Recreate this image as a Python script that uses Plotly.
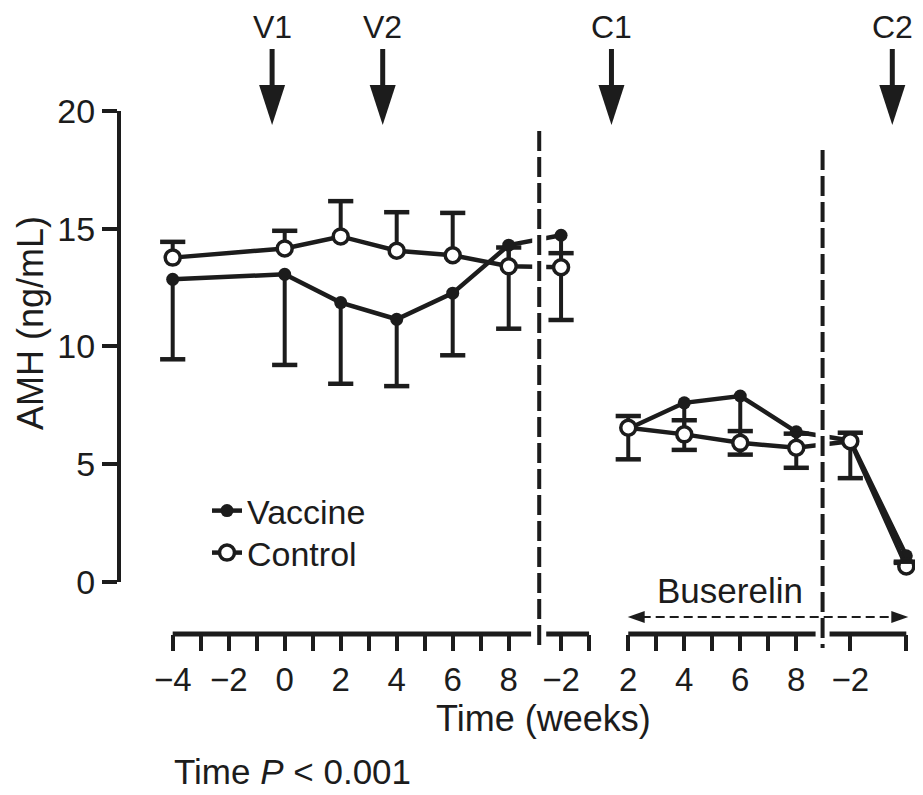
import plotly.graph_objects as go

# ---- values ----
phase = [1, 1, 1, 1, 1, 1, 2, 3, 3, 3, 3, 4, 4]
week = [-4, 0, 2, 4, 6, 8, -2, 2, 4, 6, 8, -2, 0]

vaccine = [12.85, 13.06, 11.86, 11.15, 12.26, 14.3, 14.72, 6.5, 7.6, 7.89, 6.37, 6.0, 1.1]
vaccine_sem = [3.4, 3.85, 3.45, 2.84, 2.64, 3.55, 3.6, 1.3, 2.0, 2.49, 1.53, 1.6, 0.3]   # shown below
control = [13.77, 14.16, 14.67, 14.06, 13.87, 13.4, 13.36, 6.54, 6.26, 5.9, 5.69, 5.97, 0.65]
control_sem = [0.67, 0.75, 1.5, 1.64, 1.8, 0.8, 0.6, 0.5, 0.6, 0.5, 0.6, 0.36, 0.2]   # shown above

events = ["V1", "V2", "C1", "C2"]
event_phase = [1, 1, 2, 4]
event_week = [-0.45, 3.5, -0.2, -0.5]

# ticks on the broken time axis
tick_phase = [1] * 13 + [2, 2] + [3] * 7 + [4, 4]
tick_week = list(range(-4, 9)) + [-2, -1] + list(range(2, 9)) + [-2, 0]

# broken axis: each phase gets its own offset on one continuous scale
offset = {1: 4.0, 2: 15.87, 3: 14.27, 4: 26.2}


def pos(p, w):
    return w + offset[p]


# ---- page geometry (page has an 8px body margin) ----
W, H = 915, 787
L, R, T, B = 113, 8, 103, 161
plot_w = W - L - R
plot_h = H - T - B
X0, Y0 = 121, 634          # page pixel of plot left / plot bottom
px_u = 28.0
u_min = -(172.7 - X0) / px_u
u_max = u_min + plot_w / px_u
INK = "#1c1c1c"
FONT = "Liberation Sans, Arial, sans-serif"


def py(y):  # page pixel row -> paper y
    return (Y0 - y) / plot_h


def pxp(x):  # page pixel column -> paper x
    return (x - X0) / plot_w


def with_gap(vals, fill=None):
    out = []
    for i, v in enumerate(vals):
        if i > 0 and phase[i - 1] == 2 and phase[i] == 3:
            out.append(fill)
        out.append(v)
    return out


xs = with_gap([pos(p, w) for p, w in zip(phase, week)])

fig = go.Figure()

# Vaccine
fig.add_trace(go.Scatter(
    x=xs, y=with_gap(vaccine), name="Vaccine", mode="lines+markers", cliponaxis=False,
    line=dict(color=INK, width=4.5),
    marker=dict(symbol="circle", size=13, color=INK),
    error_y=dict(type="data", symmetric=False, array=with_gap([0] * len(vaccine), 0),
                 arrayminus=with_gap(vaccine_sem, 0), thickness=4, width=0, color=INK),
))
fig.add_trace(go.Scatter(
    x=xs, y=with_gap([v - e for v, e in zip(vaccine, vaccine_sem)]),
    mode="markers", showlegend=False, hoverinfo="skip", cliponaxis=False,
    marker=dict(symbol="line-ew", size=18, line=dict(width=4.5, color=INK)),
))

# Control
fig.add_trace(go.Scatter(
    x=xs, y=with_gap(control), name="Control", mode="lines+markers", cliponaxis=False,
    legend="legend2",
    line=dict(color=INK, width=4.5),
    marker=dict(symbol="circle", size=15, color="white", line=dict(width=3.5, color=INK)),
    error_y=dict(type="data", symmetric=False, array=with_gap(control_sem, 0),
                 arrayminus=with_gap([0] * len(control), 0), thickness=4, width=0, color=INK),
))
fig.add_trace(go.Scatter(
    x=xs, y=with_gap([v + e for v, e in zip(control, control_sem)]),
    mode="markers", showlegend=False, hoverinfo="skip", cliponaxis=False,
    marker=dict(symbol="line-ew", size=18, line=dict(width=4.5, color=INK)),
))

shapes = []
# segments of the broken x axis line
for a, b in [(pos(1, -4), pos(1, 8.8)), (pos(2, -2.62), pos(2, -1)),
             (pos(3, 2), pos(3, 8.75)), (pos(4, -2.78), pos(4, 0))]:
    shapes.append(dict(type="line", xref="x", yref="paper", x0=a, x1=b, y0=0, y1=0,
                       line=dict(color=INK, width=5)))

# dashed separators, with white band to break the series lines
breaks = [(13.09, 131), (23.21, 150)]
for bx, top in breaks:
    shapes.append(dict(type="line", xref="x", yref="paper", x0=bx, x1=bx, y0=py(top), y1=py(650),
                       line=dict(color="white", width=14)))
for bx, top in breaks:
    shapes.append(dict(type="line", xref="x", yref="paper", x0=bx, x1=bx, y0=py(top), y1=py(648),
                       line=dict(color=INK, width=4, dash="20px,6px")))

# Buserelin double arrow
bl, br, by = (627.7 - 172.7) / px_u, (908.3 - 172.7) / px_u, py(617)
shapes.append(dict(type="line", xref="x", yref="paper", x0=bl + 0.5, x1=br - 0.5, y0=by, y1=by,
                   line=dict(color=INK, width=2, dash="9px,5px")))
shapes.append(dict(type="path", xref="x", yref="paper", xsizemode="pixel", ysizemode="pixel",
                   xanchor=bl, yanchor=by, path="M0,0 L17,6 L17,-6 Z",
                   fillcolor=INK, line=dict(width=0)))
shapes.append(dict(type="path", xref="x", yref="paper", xsizemode="pixel", ysizemode="pixel",
                   xanchor=br, yanchor=by, path="M0,0 L-17,6 L-17,-6 Z",
                   fillcolor=INK, line=dict(width=0)))

annotations = []
# injection arrows
for name, p, w in zip(events, event_phase, event_week):
    ex = pos(p, w)
    shapes.append(dict(type="line", xref="x", yref="paper", xsizemode="pixel", ysizemode="pixel",
                       xanchor=ex, yanchor=py(125), x0=0, x1=0, y0=35, y1=76,
                       line=dict(color=INK, width=5)))
    shapes.append(dict(type="path", xref="x", yref="paper", xsizemode="pixel", ysizemode="pixel",
                       xanchor=ex, yanchor=py(125), path="M-13,40 L13,40 L0,0 Z",
                       fillcolor=INK, line=dict(width=0)))
    annotations.append(dict(x=ex, y=py(8.5), xref="x", yref="paper", text=name, showarrow=False,
                            xanchor="center", yanchor="top", borderpad=0,
                            font=dict(size=32, color=INK, family=FONT)))


def label(text, x, y, size, **kw):
    d = dict(x=x, y=y, xref="paper", yref="paper", text=text, showarrow=False,
             xanchor="center", yanchor="middle", font=dict(size=size, color=INK, family=FONT))
    d.update(kw)
    return d


annotations += [
    label("Buserelin", 19.9, py(590), 35, xref="x"),
    label("Time (weeks)", pxp(543), py(718), 36),
    label("Time <i>P</i> &lt; 0.001", pxp(172), py(771), 35, xanchor="left"),
    label("AMH (ng/mL)", pxp(8.5), py(323), 36, textangle=-90, xanchor="left", borderpad=0),
]

tick_vals = [pos(p, w) for p, w in zip(tick_phase, tick_week)]
tick_text = []
for p, w in zip(tick_phase, tick_week):
    show = w % 2 == 0 and not (p == 2 and w == -1) and not (p == 4 and w == 0)
    tick_text.append(str(w).replace("-", "\u2212") if show else "")

legend_style = dict(xanchor="left", yanchor="middle", bgcolor="rgba(0,0,0,0)",
                    font=dict(size=34, color=INK, family=FONT))

fig.update_layout(
    width=W, height=H,
    margin=dict(l=L, r=R, t=T, b=B, pad=0),
    plot_bgcolor="white", paper_bgcolor="white",
    font=dict(family=FONT, color=INK, size=32),
    showlegend=True,
    legend=dict(x=pxp(207), y=py(511), **legend_style),
    legend2=dict(x=pxp(207), y=py(553), **legend_style),
    xaxis=dict(range=[u_min, u_max], anchor="free", position=0, showline=False,
               showgrid=False, zeroline=False, ticks="outside", ticklen=16, tickwidth=4,
               tickcolor=INK, tickmode="array", tickvals=tick_vals, ticktext=tick_text,
               tickfont=dict(size=33, color=INK, family=FONT), ticklabelstandoff=0),
    yaxis=dict(domain=[py(581.7), 1], range=[0, 20], showline=True, linewidth=4,
               linecolor=INK, showgrid=False, zeroline=False, ticks="outside", ticklen=15,
               tickwidth=4, tickcolor=INK, tickvals=[0, 5, 10, 15, 20],
               tickfont=dict(size=34, color=INK, family=FONT), ticklabelstandoff=0),
    shapes=shapes,
    annotations=annotations,
)

fig.write_html("out.html")
